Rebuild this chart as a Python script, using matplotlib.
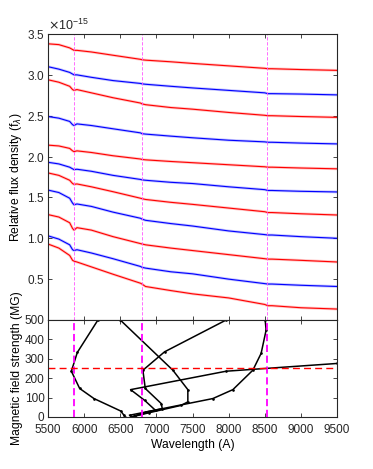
import matplotlib.pyplot as plt
from matplotlib.ticker import ScalarFormatter

plt.rcParams['font.family'] = ['Liberation Sans', 'DejaVu Sans']

# --- spectra (flux x 1e-15) ---
wl = [5500, 5650, 5800, 5840, 5860, 5900, 6100, 6400, 6780, 6800, 6850,
      7200, 7500, 8000, 8500, 8540, 8600, 9000, 9500]

s1 = [3.38, 3.37, 3.33, 3.31, 3.30, 3.30, 3.28, 3.24, 3.19, 3.185, 3.18, 3.16, 3.14, 3.11, 3.08, 3.075, 3.075, 3.065, 3.055]
s2 = [3.10, 3.07, 3.03, 3.01, 3.00, 3.00, 2.97, 2.93, 2.895, 2.89, 2.885, 2.86, 2.84, 2.81, 2.78, 2.77, 2.77, 2.765, 2.755]
s3 = [2.94, 2.91, 2.86, 2.82, 2.81, 2.82, 2.78, 2.72, 2.655, 2.645, 2.635, 2.60, 2.58, 2.54, 2.505, 2.50, 2.50, 2.49, 2.48]
s4 = [2.49, 2.47, 2.43, 2.39, 2.38, 2.40, 2.38, 2.34, 2.29, 2.28, 2.275, 2.25, 2.23, 2.20, 2.18, 2.175, 2.175, 2.165, 2.155]
s5 = [2.14, 2.13, 2.10, 2.07, 2.06, 2.07, 2.05, 2.01, 1.97, 1.965, 1.96, 1.94, 1.925, 1.90, 1.875, 1.87, 1.87, 1.86, 1.85]
s6 = [1.93, 1.91, 1.87, 1.85, 1.84, 1.845, 1.82, 1.77, 1.72, 1.715, 1.71, 1.685, 1.67, 1.63, 1.595, 1.585, 1.585, 1.575, 1.567]
s7 = [1.80, 1.77, 1.71, 1.67, 1.66, 1.665, 1.63, 1.57, 1.49, 1.485, 1.475, 1.44, 1.415, 1.37, 1.325, 1.315, 1.315, 1.30, 1.285]
s8 = [1.59, 1.56, 1.49, 1.43, 1.41, 1.42, 1.39, 1.32, 1.245, 1.235, 1.22, 1.18, 1.15, 1.09, 1.045, 1.04, 1.04, 1.02, 1.00]
s9 = [1.29, 1.26, 1.19, 1.12, 1.10, 1.13, 1.10, 1.02, 0.935, 0.93, 0.92, 0.88, 0.85, 0.80, 0.75, 0.745, 0.745, 0.73, 0.71]
s10 = [1.03, 0.99, 0.92, 0.86, 0.85, 0.86, 0.82, 0.75, 0.655, 0.645, 0.635, 0.59, 0.565, 0.50, 0.445, 0.44, 0.44, 0.425, 0.41]
s11 = [0.93, 0.88, 0.79, 0.73, 0.72, 0.71, 0.65, 0.56, 0.45, 0.44, 0.41, 0.36, 0.32, 0.27, 0.19, 0.175, 0.175, 0.15, 0.134]

spectra = [s1, s2, s3, s4, s5, s6, s7, s8, s9, s10, s11]
colors = ['red', 'blue'] * 6

# stationary line positions
stat_lines = [5855, 6795, 8535]

# --- Zeeman components (wavelength, field) ---
c1_wl = [6191, 5906, 5823, 5938, 6136, 6505, 6545, 6563]
c1_b = [500, 333, 236, 147, 95, 31, 12, 0]
c2_wl = [6500, 7228, 7435, 7435, 7343, 6900, 6652]
c2_b = [500, 241, 141, 78, 60, 22, 0]
c3_wl = [7965, 7113, 6813, 6846, 7067, 7081, 6859, 6652]
c3_b = [500, 336, 241, 147, 69, 43, 26, 0]
c4_wl = [9500, 7965, 6643, 6836, 6988, 6700]
c4_b = [276, 236, 141, 86, 34, 5]
c5_wl = [8505, 8518, 8449, 8334, 8058, 7781, 6629]
c5_b = [500, 448, 328, 241, 141, 95, 9]

comps = [(c1_wl, c1_b), (c2_wl, c2_b), (c3_wl, c3_b), (c4_wl, c4_b), (c5_wl, c5_b)]

fig = plt.figure(figsize=(3.73, 4.69), dpi=100)
ax1 = fig.add_axes([0.1287, 0.3177, 0.775, 0.6098])
ax2 = fig.add_axes([0.1287, 0.1109, 0.775, 0.2068])

edge = '#262626'
for ax in (ax1, ax2):
    ax.tick_params(direction='in', top=True, right=True, labelsize=8.5,
                   length=3, width=0.6, colors=edge, pad=2.5)
    ax.tick_params(axis='x', pad=5)
    for sp in ax.spines.values():
        sp.set_color(edge)
        sp.set_linewidth(0.8)
    ax.set_xlim(5500, 9500)
    ax.set_xticks(range(5500, 10000, 500))

# top panel: spectra
for s, c in zip(spectra, colors):
    y = [v * 1e-15 for v in s]
    ax1.plot(wl, y, color=c, lw=2.0, alpha=0.22)
    ax1.plot(wl, y, color=c, lw=0.8)
for x in stat_lines:
    ax1.axvline(x, color='#ff55ff', ls='--', lw=0.6, dashes=(4, 2))
ax1.set_ylim(0, 3.5e-15)
ax1.set_yticks([v * 1e-15 for v in [0.5, 1, 1.5, 2, 2.5, 3, 3.5]])
fmt = ScalarFormatter(useMathText=True)
fmt.set_powerlimits((0, 0))
ax1.yaxis.set_major_formatter(fmt)
ax1.yaxis.get_offset_text().set_fontsize(9)
ax1.set_xticklabels([])
ax1.set_ylabel(r'Relative flux density (f$_\lambda$)', fontsize=8.7, labelpad=2)

# bottom panel: field strength vs wavelength
for cw, cb in comps:
    ax2.plot(cw, cb, color='black', lw=1.1, marker='.', ms=1.8)
for x in stat_lines:
    ax2.axvline(x, color='magenta', ls='--', lw=1.3, dashes=(4, 2))
ax2.axhline(250, color='red', ls='--', lw=1.0, dashes=(5, 3))
ax2.set_ylim(0, 500)
ax2.set_yticks(range(0, 600, 100))
ax2.set_xlabel('Wavelength (A)', fontsize=8.7, labelpad=2)
ax2.set_ylabel('Magnetic field strength (MG)', fontsize=8.7, labelpad=1)

fig.savefig('out.png', dpi=100)
